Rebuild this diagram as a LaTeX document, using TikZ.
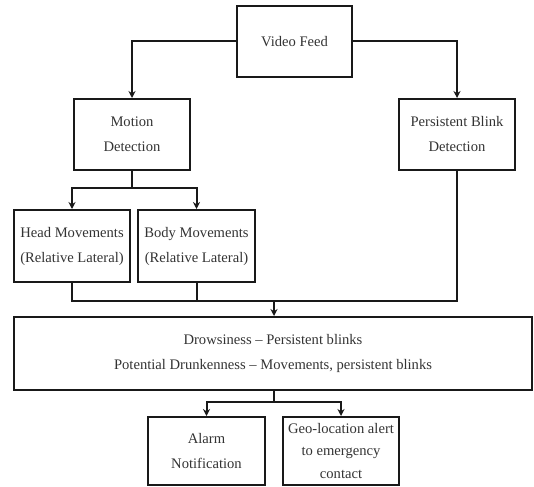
\documentclass[tikz,border=0pt]{standalone}
\usepackage{fontspec}
\setmainfont{Liberation Serif}
\usetikzlibrary{arrows.meta}
\tikzset{
  box/.style={draw=black!90, line width=2pt, rectangle, inner sep=0pt, align=center,
    font=\fontsize{14.6}{25}\selectfont, text=black!80},
  conn/.style={draw=black!90, line width=2pt},
  arr/.style={conn, -{Stealth[length=7pt,width=7pt]}}
}
\begin{document}
\begin{tikzpicture}[x=1pt,y=-1pt]
\useasboundingbox (0,0) rectangle (534,486);
\node[box, minimum width=115pt, minimum height=71pt] (video) at (294.5,41.5) {Video Feed};
\node[box, minimum width=116pt, minimum height=71pt] (motion) at (132,134.5) {Motion\\Detection};
\node[box, minimum width=116pt, minimum height=71pt] (blink) at (457,134.5) {Persistent Blink\\Detection};
\node[box, minimum width=116pt, minimum height=72pt] (head) at (72,246) {Head Movements\\(Relative Lateral)};
\node[box, minimum width=117pt, minimum height=72pt] (body) at (196.5,246) {Body Movements\\(Relative Lateral)};
\node[box, minimum width=518pt, minimum height=73pt] (state) at (273,353.5) {Drowsiness -- Persistent blinks\\Potential Drunkenness -- Movements, persistent blinks};
\node[box, minimum width=117pt, minimum height=68pt] (alarm) at (206.5,451) {Alarm\\Notification};
\node[box, minimum width=116pt, minimum height=68pt, font=\fontsize{14.6}{22}\selectfont] (geo) at (341,451) {Geo-location alert\\to emergency\\contact};
\coordinate (j1) at (132,188);
\coordinate (j2) at (274,301);
\coordinate (j3) at (274,402);
\draw[arr] (video.west) -| (motion.north);
\draw[arr] (video.east) -| (blink.north);
\draw[conn] (motion.south) -- (j1);
\draw[arr] (j1) -| (head.north);
\draw[arr] (j1) -| (body.north);
\draw[conn] (head.south) |- (j2);
\draw[conn] (body.south) |- (j2);
\draw[conn] (blink.south) |- (j2);
\draw[arr] (j2) -- (j2 |- state.north);
\draw[conn] (j3 |- state.south) -- (j3);
\draw[arr] (j3) -| (alarm.north);
\draw[arr] (j3) -| (geo.north);
\end{tikzpicture}
\end{document}
